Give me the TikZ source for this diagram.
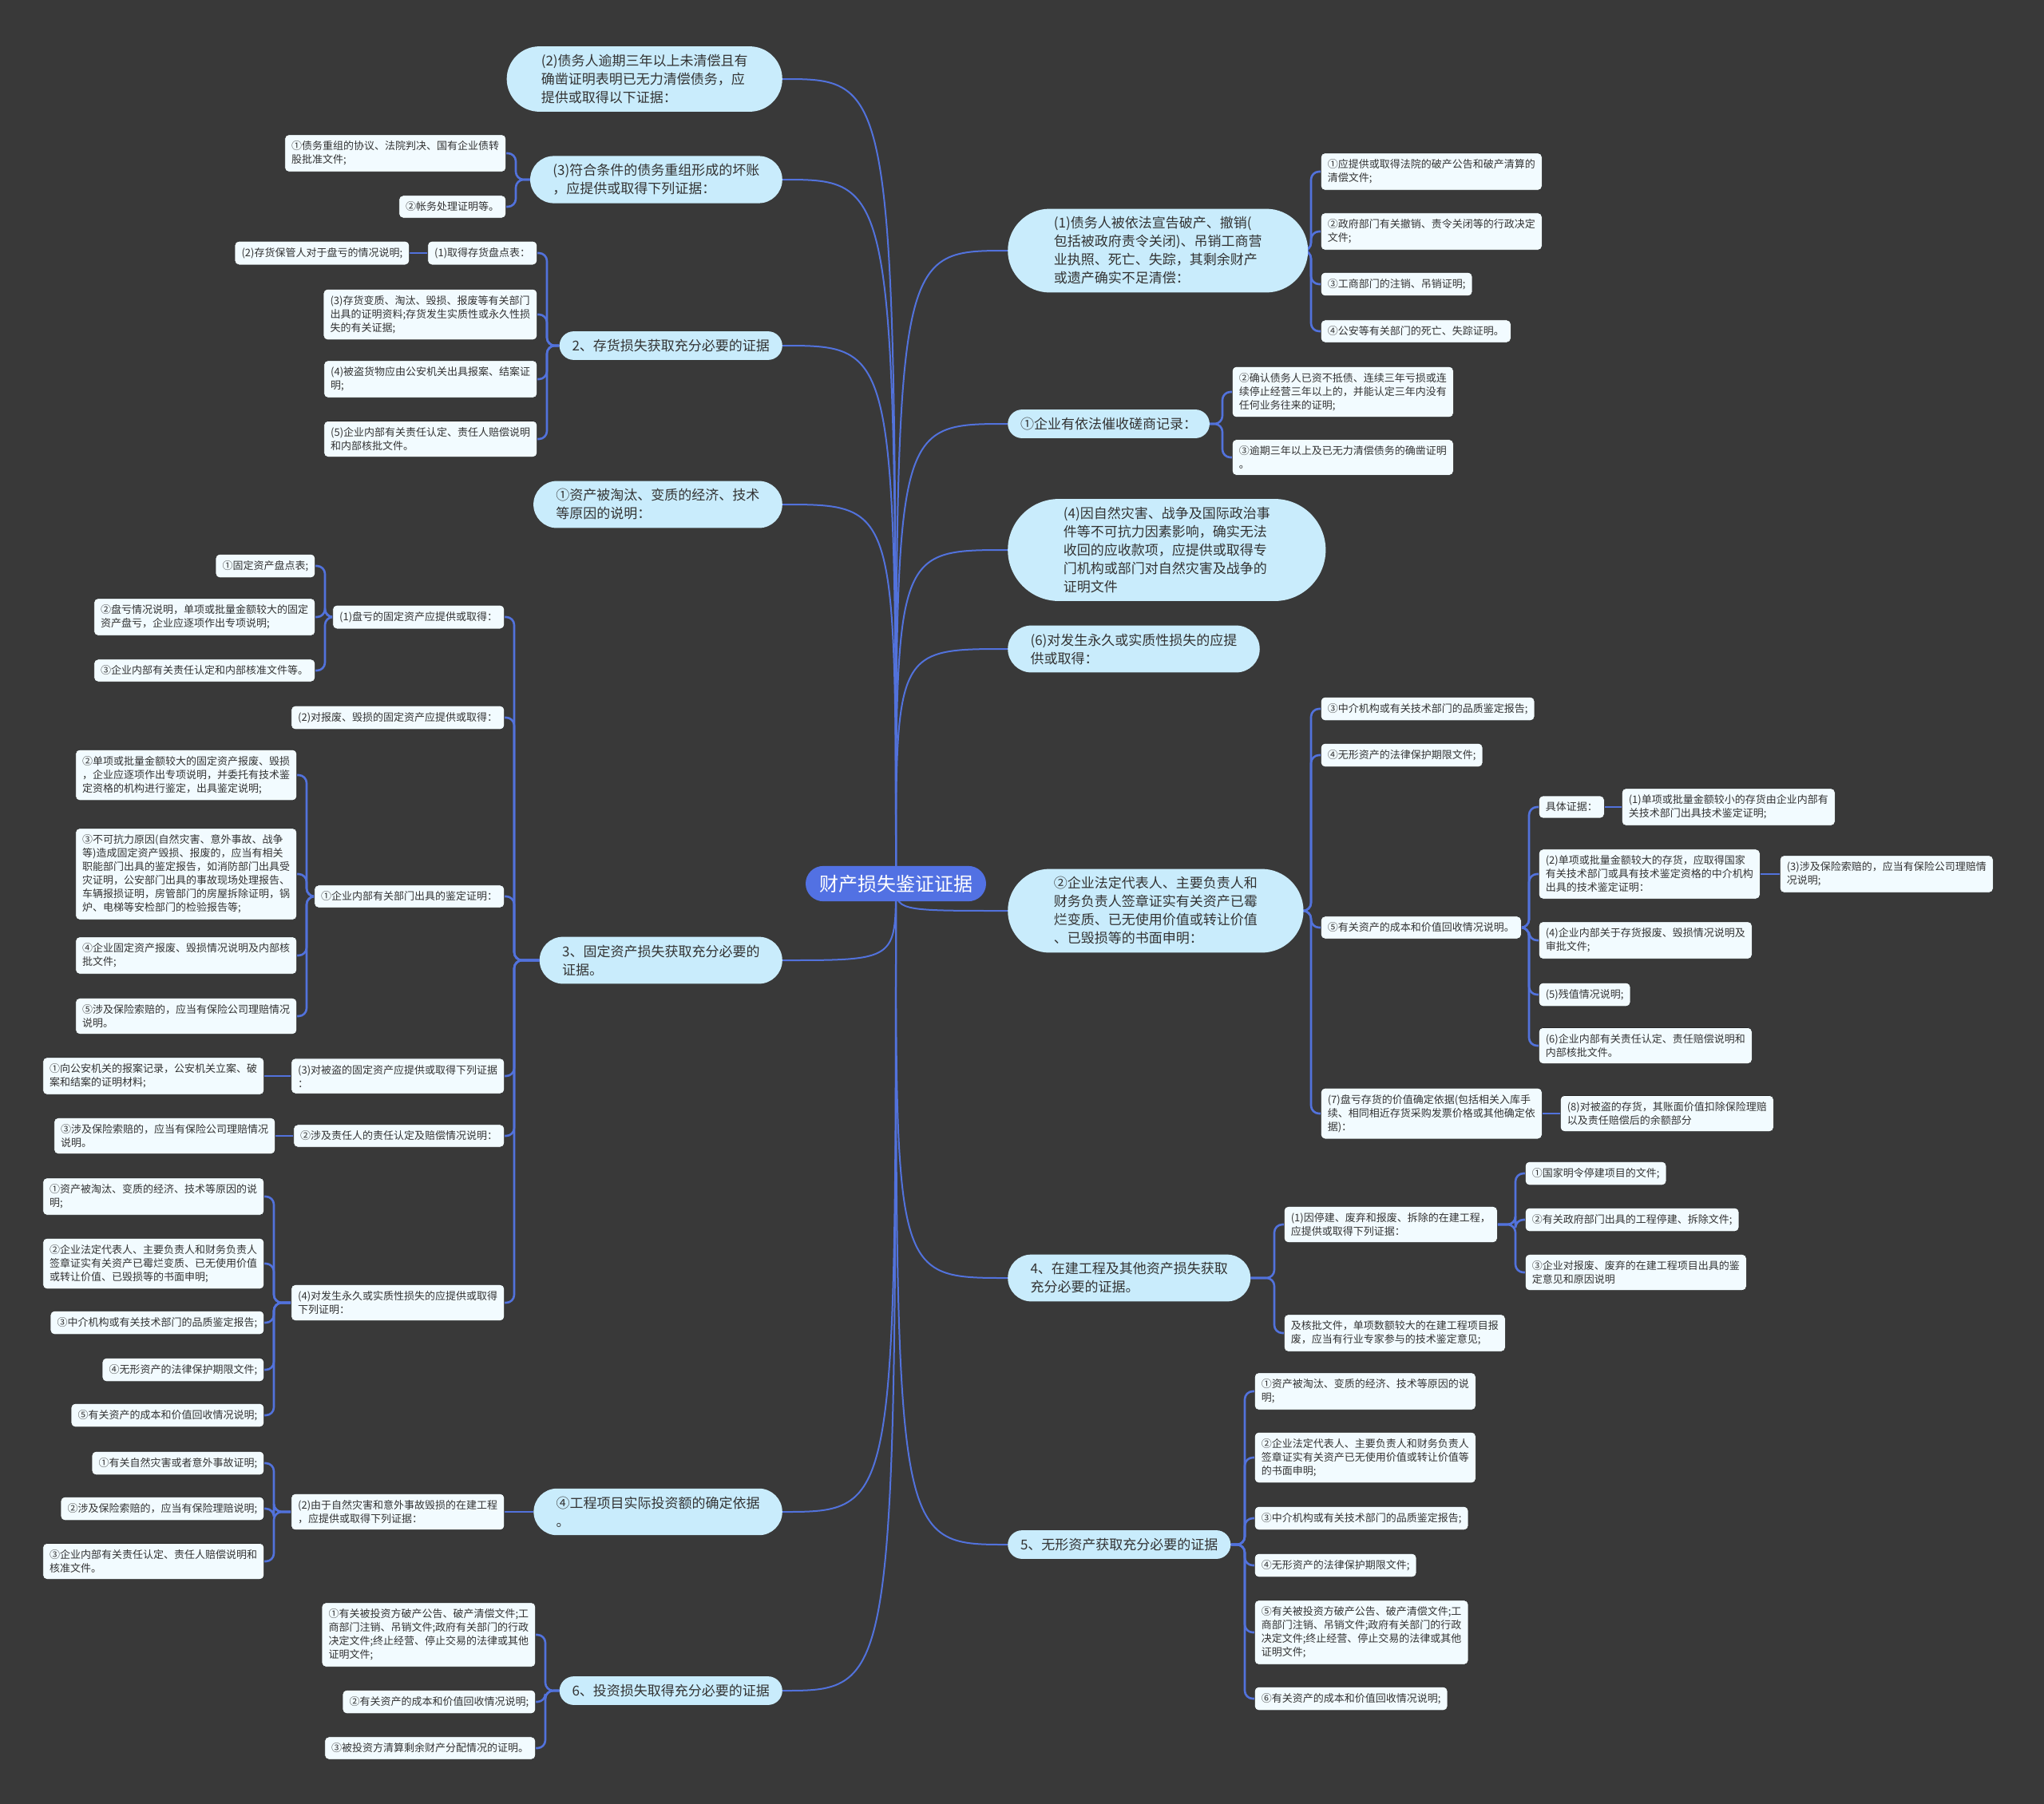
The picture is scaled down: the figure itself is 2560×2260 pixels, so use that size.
\documentclass[tikz,border=0pt]{standalone}
\usepackage{fontspec}
\setmainfont{Noto Sans CJK SC}
\usetikzlibrary{shapes.misc}

\definecolor{bgc}{HTML}{393939}
\definecolor{linkblue}{HTML}{5272DC}
\definecolor{rootblue}{HTML}{5271E3}
\definecolor{topicblue}{HTML}{C9ECFC}
\definecolor{leafwhite}{HTML}{F2FBFF}
\definecolor{leafedge}{HTML}{262626}
\definecolor{txt}{HTML}{333333}

\pgfdeclarelayer{background}
\pgfdeclarelayer{links}
\pgfsetlayers{background,links,main}

\begin{document}
\begin{tikzpicture}[x=1pt,y=-1pt,
    root/.style={rounded rectangle,fill=rootblue,text=white,
      font=\fontsize{24}{28}\selectfont,inner xsep=14pt,inner ysep=11pt},
    topic/.style={rounded rectangle,fill=topicblue,text=txt,align=left,
      font=\fontsize{17}{23}\selectfont,inner xsep=#1,inner ysep=10pt},
    topic/.default=14pt,
    leaf/.style={rectangle,rounded corners=5pt,fill=leafwhite,draw=leafedge,
      line width=0.6pt,text=txt,align=left,
      font=\fontsize{13}{17}\selectfont,inner xsep=8.5pt,inner ysep=8pt},
    mainlink/.style={draw=linkblue,line width=2pt},
    sublink/.style={draw=linkblue,line width=2.6pt,rounded corners=10pt}]
  \useasboundingbox (0,0) rectangle (2560,2260);
  \begin{pgfonlayer}{background}
    \fill[bgc] (0,0) rectangle (2560,2260);
  \end{pgfonlayer}

  % centre
  \node[root] (root) at (1122,1107) {财产损失鉴证证据};

  % left topics
  \node[topic=29pt,anchor=east] (overdue) at (980,99) {(2)债务人逾期三年以上未清偿且有\\确凿证明表明已无力清偿债务，应\\提供或取得以下证据：};
  \node[topic=21pt,anchor=east] (restr) at (980,225) {(3)符合条件的债务重组形成的坏账\\，应提供或取得下列证据：};
  \node[topic,anchor=east] (stock) at (980,433) {2、存货损失获取充分必要的证据};
  \node[topic=21pt,anchor=east] (obsolete) at (980,632) {①资产被淘汰、变质的经济、技术\\等原因的说明：};
  \node[topic=21pt,anchor=east] (fixed) at (980,1203) {3、固定资产损失获取充分必要的\\证据。};
  \node[topic=21pt,anchor=east] (build) at (980,1894) {④工程项目实际投资额的确定依据\\。};
  \node[topic,anchor=east] (invest) at (980,2118) {6、投资损失取得充分必要的证据};

  % right topics
  \node[topic=36pt,anchor=west] (bankrupt) at (1262,314) {(1)债务人被依法宣告破产、撤销(\\包括被政府责令关闭)、吊销工商营\\业执照、死亡、失踪，其剩余财产\\或遗产确实不足清偿：};
  \node[topic,anchor=west] (collect) at (1262,531) {①企业有依法催收磋商记录：};
  \node[topic=40pt,anchor=west] (disaster) at (1262,689) {(4)因自然灾害、战争及国际政治事\\件等不可抗力因素影响，确实无法\\收回的应收款项，应提供或取得专\\门机构或部门对自然灾害及战争的\\证明文件};
  \node[topic=21pt,anchor=west] (perm) at (1262,813) {(6)对发生永久或实质性损失的应提\\供或取得：};
  \node[topic=36pt,anchor=west] (decl) at (1262,1141) {②企业法定代表人、主要负责人和\\财务负责人签章证实有关资产已霉\\烂变质、已无使用价值或转让价值\\、已毁损等的书面申明：};
  \node[topic=21pt,anchor=west] (wip) at (1262,1601) {4、在建工程及其他资产损失获取\\充分必要的证据。};
  \node[topic,anchor=west] (intang) at (1262,1935) {5、无形资产获取充分必要的证据};

  % left leaves
  \node[leaf,anchor=east] (restr1) at (634,192) {①债务重组的协议、法院判决、国有企业债转\\股批准文件;};
  \node[leaf,anchor=east] (restr2) at (634,259) {②帐务处理证明等。};

  \node[leaf,anchor=east] (stock1) at (673,317) {(1)取得存货盘点表：};
  \node[leaf,anchor=east] (stock2) at (513,317) {(2)存货保管人对于盘亏的情况说明;};
  \node[leaf,anchor=east] (stock3) at (673,394) {(3)存货变质、淘汰、毁损、报废等有关部门\\出具的证明资料;存货发生实质性或永久性损\\失的有关证据;};
  \node[leaf,anchor=east] (stock4) at (673,475) {(4)被盗货物应由公安机关出具报案、结案证\\明;};
  \node[leaf,anchor=east] (stock5) at (673,550) {(5)企业内部有关责任认定、责任人赔偿说明\\和内部核批文件。};

  \node[leaf,anchor=east] (fixed1) at (632,773) {(1)盘亏的固定资产应提供或取得：};
  \node[leaf,anchor=east] (fixed1a) at (395,709) {①固定资产盘点表;};
  \node[leaf,anchor=east] (fixed1b) at (395,773) {②盘亏情况说明，单项或批量金额较大的固定\\资产盘亏，企业应逐项作出专项说明;};
  \node[leaf,anchor=east] (fixed1c) at (395,840) {③企业内部有关责任认定和内部核准文件等。};
  \node[leaf,anchor=east] (fixed2) at (632,899) {(2)对报废、毁损的固定资产应提供或取得：};
  \node[leaf,anchor=east] (fixed3) at (632,1123) {①企业内部有关部门出具的鉴定证明：};
  \node[leaf,anchor=east] (fixed3a) at (372,971) {②单项或批量金额较大的固定资产报废、毁损\\，企业应逐项作出专项说明，并委托有技术鉴\\定资格的机构进行鉴定，出具鉴定说明;};
  \node[leaf,anchor=east] (fixed3b) at (372,1095) {③不可抗力原因(自然灾害、意外事故、战争\\等)造成固定资产毁损、报废的，应当有相关\\职能部门出具的鉴定报告，如消防部门出具受\\灾证明，公安部门出具的事故现场处理报告、\\车辆报损证明，房管部门的房屋拆除证明，锅\\炉、电梯等安检部门的检验报告等;};
  \node[leaf,anchor=east] (fixed3c) at (372,1197) {④企业固定资产报废、毁损情况说明及内部核\\批文件;};
  \node[leaf,anchor=east] (fixed3d) at (372,1273) {⑤涉及保险索赔的，应当有保险公司理赔情况\\说明。};
  \node[leaf,anchor=east] (fixed4) at (632,1348) {(3)对被盗的固定资产应提供或取得下列证据\\：};
  \node[leaf,anchor=east] (fixed4a) at (331,1348) {①向公安机关的报案记录，公安机关立案、破\\案和结案的证明材料;};
  \node[leaf,anchor=east] (fixed5) at (632,1423) {②涉及责任人的责任认定及赔偿情况说明：};
  \node[leaf,anchor=east] (fixed5a) at (345,1423) {③涉及保险索赔的，应当有保险公司理赔情况\\说明。};
  \node[leaf,anchor=east] (fixed6) at (632,1632) {(4)对发生永久或实质性损失的应提供或取得\\下列证明：};
  \node[leaf,anchor=east] (fixed6a) at (331,1499) {①资产被淘汰、变质的经济、技术等原因的说\\明;};
  \node[leaf,anchor=east] (fixed6b) at (331,1583) {②企业法定代表人、主要负责人和财务负责人\\签章证实有关资产已霉烂变质、已无使用价值\\或转让价值、已毁损等的书面申明;};
  \node[leaf,anchor=east] (fixed6c) at (331,1657) {③中介机构或有关技术部门的品质鉴定报告;};
  \node[leaf,anchor=east] (fixed6d) at (331,1716) {④无形资产的法律保护期限文件;};
  \node[leaf,anchor=east] (fixed6e) at (331,1773) {⑤有关资产的成本和价值回收情况说明;};

  \node[leaf,anchor=east] (build1) at (632,1894) {(2)由于自然灾害和意外事故毁损的在建工程\\，应提供或取得下列证据：};
  \node[leaf,anchor=east] (build1a) at (331,1833) {①有关自然灾害或者意外事故证明;};
  \node[leaf,anchor=east] (build1b) at (331,1890) {②涉及保险索赔的，应当有保险理赔说明;};
  \node[leaf,anchor=east] (build1c) at (331,1956) {③企业内部有关责任认定、责任人赔偿说明和\\核准文件。};

  \node[leaf,anchor=east] (invest1) at (671,2048) {①有关被投资方破产公告、破产清偿文件;工\\商部门注销、吊销文件;政府有关部门的行政\\决定文件;终止经营、停止交易的法律或其他\\证明文件;};
  \node[leaf,anchor=east] (invest2) at (671,2132) {②有关资产的成本和价值回收情况说明;};
  \node[leaf,anchor=east] (invest3) at (671,2190) {③被投资方清算剩余财产分配情况的证明。};

  % right leaves
  \node[leaf,anchor=west] (bankrupt1) at (1654,215) {①应提供或取得法院的破产公告和破产清算的\\清偿文件;};
  \node[leaf,anchor=west] (bankrupt2) at (1654,290) {②政府部门有关撤销、责令关闭等的行政决定\\文件;};
  \node[leaf,anchor=west] (bankrupt3) at (1654,356) {③工商部门的注销、吊销证明;};
  \node[leaf,anchor=west] (bankrupt4) at (1654,415) {④公安等有关部门的死亡、失踪证明。};

  \node[leaf,anchor=west] (collect1) at (1543,491) {②确认债务人已资不抵债、连续三年亏损或连\\续停止经营三年以上的，并能认定三年内没有\\任何业务往来的证明;};
  \node[leaf,anchor=west] (collect2) at (1543,573) {③逾期三年以上及已无力清偿债务的确凿证明\\。};

  \node[leaf,anchor=west] (decl1) at (1654,888) {③中介机构或有关技术部门的品质鉴定报告;};
  \node[leaf,anchor=west] (decl2) at (1654,946) {④无形资产的法律保护期限文件;};
  \node[leaf,anchor=west] (decl3) at (1654,1162) {⑤有关资产的成本和价值回收情况说明。};
  \node[leaf,anchor=west] (decl3a) at (1927,1011) {具体证据：};
  \node[leaf,anchor=west] (decl3a1) at (2031,1011) {(1)单项或批量金额较小的存货由企业内部有\\关技术部门出具技术鉴定证明;};
  \node[leaf,anchor=west] (decl3b) at (1927,1095) {(2)单项或批量金额较大的存货，应取得国家\\有关技术部门或具有技术鉴定资格的中介机构\\出具的技术鉴定证明：};
  \node[leaf,anchor=west] (decl3b1) at (2229,1095) {(3)涉及保险索赔的，应当有保险公司理赔情\\况说明;};
  \node[leaf,anchor=west] (decl3c) at (1927,1178) {(4)企业内部关于存货报废、毁损情况说明及\\审批文件;};
  \node[leaf,anchor=west] (decl3d) at (1927,1246) {(5)残值情况说明;};
  \node[leaf,anchor=west] (decl3e) at (1927,1310) {(6)企业内部有关责任认定、责任赔偿说明和\\内部核批文件。};
  \node[leaf,anchor=west] (decl4) at (1654,1395) {(7)盘亏存货的价值确定依据(包括相关入库手\\续、相同相近存货采购发票价格或其他确定依\\据)：};
  \node[leaf,anchor=west] (decl4a) at (1954,1395) {(8)对被盗的存货，其账面价值扣除保险理赔\\以及责任赔偿后的余额部分};

  \node[leaf,anchor=west] (wip1) at (1608,1534) {(1)因停建、废弃和报废、拆除的在建工程，\\应提供或取得下列证据：};
  \node[leaf,anchor=west] (wip1a) at (1910,1470) {①国家明令停建项目的文件;};
  \node[leaf,anchor=west] (wip1b) at (1910,1528) {②有关政府部门出具的工程停建、拆除文件;};
  \node[leaf,anchor=west] (wip1c) at (1910,1594) {③企业对报废、废弃的在建工程项目出具的鉴\\定意见和原因说明};
  \node[leaf,anchor=west] (wip2) at (1608,1670) {及核批文件，单项数额较大的在建工程项目报\\废，应当有行业专家参与的技术鉴定意见;};

  \node[leaf,anchor=west] (intang1) at (1571,1743) {①资产被淘汰、变质的经济、技术等原因的说\\明;};
  \node[leaf,anchor=west] (intang2) at (1571,1826) {②企业法定代表人、主要负责人和财务负责人\\签章证实有关资产已无使用价值或转让价值等\\的书面申明;};
  \node[leaf,anchor=west] (intang3) at (1571,1902) {③中介机构或有关技术部门的品质鉴定报告;};
  \node[leaf,anchor=west] (intang4) at (1571,1961) {④无形资产的法律保护期限文件;};
  \node[leaf,anchor=west] (intang5) at (1571,2045) {⑤有关被投资方破产公告、破产清偿文件;工\\商部门注销、吊销文件;政府有关部门的行政\\决定文件;终止经营、停止交易的法律或其他\\证明文件;};
  \node[leaf,anchor=west] (intang6) at (1571,2128) {⑥有关资产的成本和价值回收情况说明;};

  % connectors
  \begin{pgfonlayer}{links}
    \foreach \t in {overdue,restr,stock,obsolete,fixed,build,invest}
      \draw[mainlink] (root.center) .. controls (root.center |- \t.east) .. (\t.east);
    \foreach \t in {bankrupt,collect,disaster,perm,decl,wip,intang}
      \draw[mainlink] (root.center) .. controls (root.center |- \t.west) .. (\t.west);
    % single child on the same row: straight
    \foreach \p/\c in {stock1/stock2,fixed4/fixed4a,fixed5/fixed5a,build/build1}
      \draw[sublink] (\p.west) -- (\c.east);
    \foreach \p/\c in {decl3a/decl3a1,decl3b/decl3b1,decl4/decl4a}
      \draw[sublink] (\p.east) -- (\c.west);
    \foreach \p/\c in {restr/restr1,restr/restr2,
        stock/stock1,stock/stock3,stock/stock4,stock/stock5,
        fixed/fixed1,fixed1/fixed1a,fixed1/fixed1b,fixed1/fixed1c,fixed/fixed2,
        fixed/fixed3,fixed3/fixed3a,fixed3/fixed3b,fixed3/fixed3c,fixed3/fixed3d,
        fixed/fixed4,fixed/fixed5,
        fixed/fixed6,fixed6/fixed6a,fixed6/fixed6b,fixed6/fixed6c,fixed6/fixed6d,fixed6/fixed6e,
        build1/build1a,build1/build1b,build1/build1c,
        invest/invest1,invest/invest2,invest/invest3}
      \draw[sublink] (\p.west) -| ([xshift=12pt]\c.east) -- (\c.east);
    \foreach \p/\c in {bankrupt/bankrupt1,bankrupt/bankrupt2,bankrupt/bankrupt3,bankrupt/bankrupt4,
        collect/collect1,collect/collect2,
        decl/decl1,decl/decl2,decl/decl3,decl/decl4,
        decl3/decl3a,decl3/decl3b,decl3/decl3c,decl3/decl3d,decl3/decl3e,
        wip/wip1,wip1/wip1a,wip1/wip1b,wip1/wip1c,wip/wip2,
        intang/intang1,intang/intang2,intang/intang3,intang/intang4,intang/intang5,intang/intang6}
      \draw[sublink] (\p.east) -| ([xshift=-12pt]\c.west) -- (\c.west);
  \end{pgfonlayer}
\end{tikzpicture}
\end{document}
